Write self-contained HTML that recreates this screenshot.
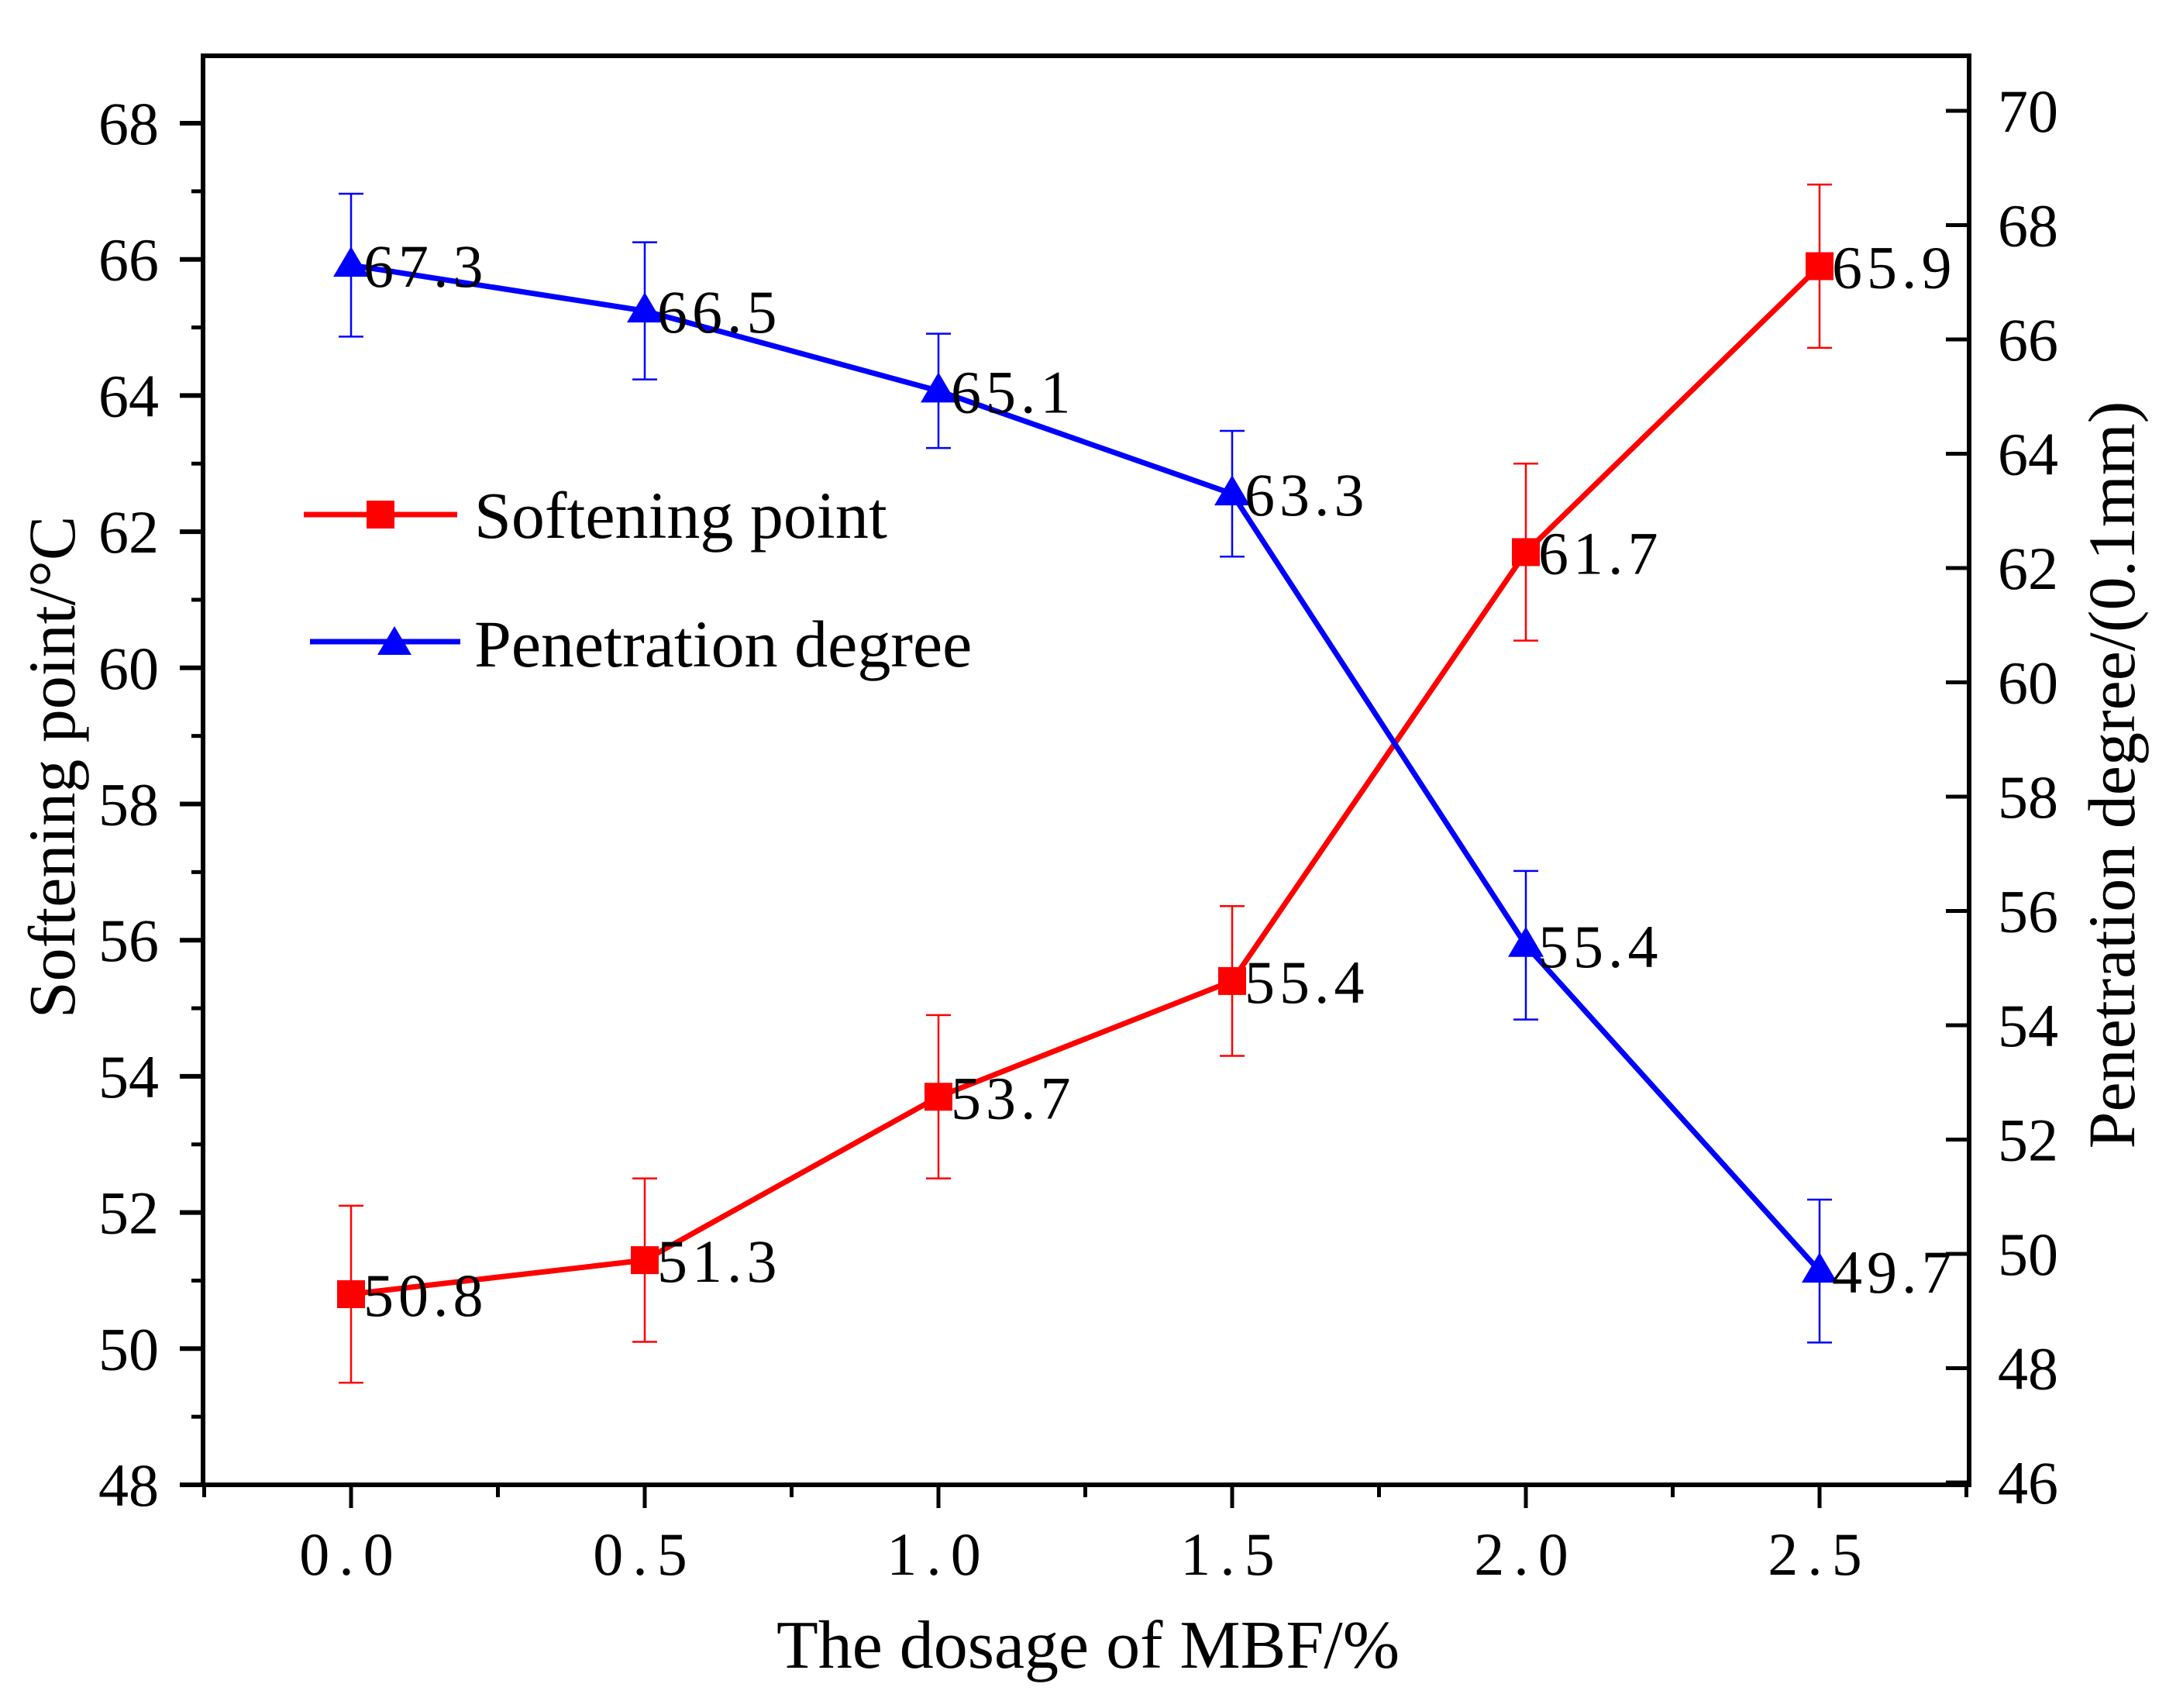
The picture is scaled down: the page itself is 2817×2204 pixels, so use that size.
<!DOCTYPE html>
<html><head><meta charset="utf-8"><style>
html,body{margin:0;padding:0;background:#fff;}
svg{display:block;font-family:"Liberation Serif","Noto Serif CJK SC",serif;}
</style></head><body>
<svg id="chart" width="2817" height="2204" viewBox="0 0 2817 2204" xmlns="http://www.w3.org/2000/svg">
<rect width="2817" height="2204" fill="#fff"/>
<g id="axes"></g>
<g id="series"></g>
<text x="1404" y="2152" font-size="88" text-anchor="middle">The dosage of MBF/%</text>
<text transform="translate(96,990) rotate(-90)" font-size="86" text-anchor="middle">Softening point/°C</text>
<text transform="translate(2754,1000) rotate(-90)" font-size="86" text-anchor="middle">Penetration degree/(0.1mm)</text>
<g>
<line x1="392" y1="664" x2="590" y2="664" stroke="#f00" stroke-width="7"/>
<rect x="473" y="646" width="36" height="36" fill="#f00"/>
<text x="612" y="694" font-size="86">Softening point</text>
<line x1="400" y1="828" x2="594" y2="828" stroke="#00f" stroke-width="7"/>
<polygon points="509,808 487,845 531,845" fill="#00f"/>
<text x="612" y="860" font-size="86">Penetration degree</text>
</g>
</svg>
<script>
const categories = [0.0, 0.5, 1.0, 1.5, 2.0, 2.5];
const xTickLabels = ["0.0","0.5","1.0","1.5","2.0","2.5"];
const softening = [50.8, 51.3, 53.7, 55.4, 61.7, 65.9];
const softeningErr = [1.3, 1.2, 1.2, 1.1, 1.3, 1.2];
const penetration = [67.3, 66.5, 65.1, 63.3, 55.4, 49.7];
const penetrationErr = [1.25, 1.2, 1.0, 1.1, 1.3, 1.25];
const leftTicks = [48, 50, 52, 54, 56, 58, 60, 62, 64, 66, 68];
const rightTicks = [46, 48, 50, 52, 54, 56, 58, 60, 62, 64, 66, 68, 70];

const NS = "http://www.w3.org/2000/svg";
const L = 262, R = 2541, T = 72, B = 1916;
const xS = v => 453 + v * 758;
const yL = v => 1916 - (v - 48) * 87.85;
const yR = v => 1913 - (v - 46) * 73.75;
function mk(tag, attrs, parent) {
  const e = document.createElementNS(NS, tag);
  for (const k in attrs) e.setAttribute(k, attrs[k]);
  parent.appendChild(e);
  return e;
}
const ax = document.getElementById('axes');
const se = document.getElementById('series');
let f = mk('rect', {x:L, y:T, width:R-L, height:B-T, fill:'none', stroke:'#000', 'stroke-width':6}, ax);


leftTicks.forEach((v, i) => {
  const y = yL(v);
  const t = mk('line', {x1:L-30, y1:y, x2:L, y2:y, stroke:'#000', 'stroke-width':6}, ax);
  
  
  const lb = mk('text', {x:205, y:y+27, 'font-size':78, 'text-anchor':'end'}, ax);
  lb.textContent = v;
  
  
  if (i < leftTicks.length - 1) {
    const m = mk('line', {x1:L-15, y1:yL(v+1), x2:L, y2:yL(v+1), stroke:'#000', 'stroke-width':5}, ax);
    
    
  }
});
rightTicks.forEach(v => {
  const y = yR(v);
  const t = mk('line', {x1:R-30, y1:y, x2:R, y2:y, stroke:'#000', 'stroke-width':5}, ax);
  
  
  const lb = mk('text', {x:2578, y:y+27, 'font-size':78}, ax);
  lb.textContent = v;
  
  
});
categories.forEach((v, i) => {
  const x = xS(v);
  const t = mk('line', {x1:x, y1:B, x2:x, y2:B+30, stroke:'#000', 'stroke-width':5}, ax);
  
  
  const lb = mk('text', {x:x, y:2032, 'font-size':78, 'text-anchor':'middle', 'letter-spacing':'12'}, ax);
  lb.textContent = xTickLabels[i];
  
  
});
[-0.25, 0.25, 0.75, 1.25, 1.75, 2.25, 2.75].forEach(v => {
  const x = Math.min(xS(v), R);
  const m = mk('line', {x1:x, y1:B, x2:x, y2:B+16, stroke:'#000', 'stroke-width':5}, ax);
  
  
});
function drawSeries(vals, errs, ys, color, name, marker) {
  const pts = categories.map((c, i) => xS(c) + ',' + ys(vals[i])).join(' ');
  const pl = mk('polyline', {points:pts, fill:'none', stroke:color, 'stroke-width':7}, se);
  
  
  categories.forEach((c, i) => {
    const x = xS(c), y = ys(vals[i]);
    const yt = ys(vals[i] + errs[i]), yb = ys(vals[i] - errs[i]);
    const eb = mk('path', {d:`M${x},${yt}V${yb}M${x-16},${yt}H${x+16}M${x-16},${yb}H${x+16}`, stroke:color, 'stroke-width':2.5, fill:'none'}, se);
    
    
    let m;
    if (marker === 'square') m = mk('rect', {x:x-18, y:y-18, width:36, height:36, fill:color}, se);
    else m = mk('polygon', {points:`${x},${y-24} ${x-23},${y+15} ${x+23},${y+15}`, fill:color}, se);
    
    
    const lb = mk('text', {x:x+16, y:y+28, 'font-size':78, 'letter-spacing':'6'}, se);
    lb.textContent = vals[i].toFixed(1);
    
    
  });
}
drawSeries(softening, softeningErr, yL, '#f00', 'softening', 'square');
drawSeries(penetration, penetrationErr, yR, '#00f', 'penetration', 'triangle');
</script>
</body></html>
